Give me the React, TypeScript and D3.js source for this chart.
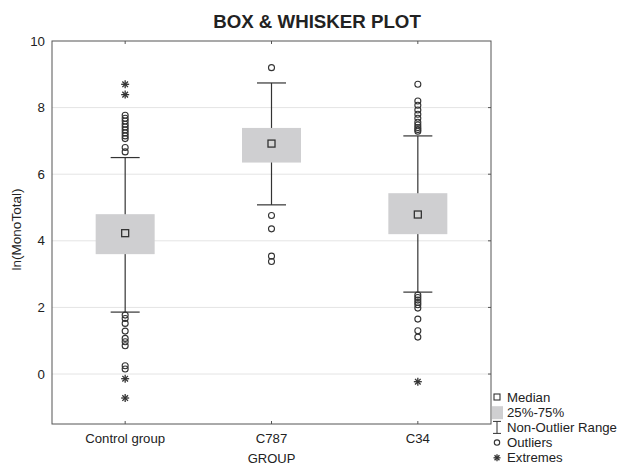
import React, { useEffect, useRef } from 'react';
import * as d3 from 'd3';

const categories = ['Control group', 'C787', 'C34'];
const medians = [4.23, 6.92, 4.79];
const q1 = [3.6, 6.35, 4.2];
const q3 = [4.8, 7.39, 5.43];
const whiskerLow = [1.86, 5.08, 2.46];
const whiskerHigh = [6.5, 8.74, 7.15];
const outliers = [
  [7.77, 7.68, 7.6, 7.5, 7.42, 7.33, 7.24, 7.15, 7.07, 6.8, 6.67, 1.77, 1.67, 1.52, 1.29, 1.07, 0.97, 0.85, 0.25, 0.15],
  [9.2, 4.76, 4.36, 3.54, 3.38],
  [8.7, 8.2, 8.07, 7.93, 7.8, 7.68, 7.56, 7.48, 7.4, 7.34, 7.29, 2.37, 2.3, 2.22, 2.15, 2.08, 1.98, 1.65, 1.3, 1.11],
];
const extremes = [
  [8.7, 8.39, -0.14, -0.72],
  [],
  [-0.23],
];
const yTicks = [0, 2, 4, 6, 8, 10];
const legendItems = ['Median', '25%-75%', 'Non-Outlier Range', 'Outliers', 'Extremes'];

const App = () => {
  const chartRef = useRef<HTMLDivElement>(null);

  useEffect(() => {
    const width = 619;
    const height = 465;
    const plot = { left: 52, right: 491, top: 41, bottom: 424 };
    const dark = '#333';
    const font = 'Liberation Sans, Arial, sans-serif';

    const svg = d3.select(chartRef.current)
      .append('svg')
      .attr('width', width)
      .attr('height', height)
      .style('position', 'absolute')
      .style('left', 0)
      .style('top', 0)
      .style('background', '#fff')
      .style('font-family', font);

    const x = d3.scaleBand()
      .domain(categories)
      .range([plot.left, plot.right]);

    const y = d3.scaleLinear()
      .domain([-1.5, 10])
      .range([plot.bottom, plot.top]);

    const cx = (i: number) => (x(categories[i]) as number) + x.bandwidth() / 2;

    // gridlines
    svg.append('g')
      .selectAll('line')
      .data(yTicks.filter(d => d < 10))
      .join('line')
      .attr('x1', plot.left)
      .attr('x2', plot.right)
      .attr('y1', d => y(d))
      .attr('y2', d => y(d))
      .attr('stroke', '#e4e4e4')
      .attr('stroke-width', 1);

    // y tick labels
    svg.append('g')
      .selectAll('text')
      .data(yTicks)
      .join('text')
      .attr('x', 45)
      .attr('y', d => y(d) + 4.5)
      .attr('text-anchor', 'end')
      .attr('font-size', 13.3)
      .attr('fill', '#222')
      .text(d => d);

    // right ticks
    svg.append('g')
      .selectAll('line')
      .data(yTicks.filter(d => d < 10))
      .join('line')
      .attr('x1', plot.right - 3)
      .attr('x2', plot.right)
      .attr('y1', d => y(d))
      .attr('y2', d => y(d))
      .attr('stroke', '#555');

    // category ticks top & bottom
    const catTicks = svg.append('g');
    categories.forEach((c, i) => {
      catTicks.append('line')
        .attr('x1', cx(i)).attr('x2', cx(i))
        .attr('y1', plot.top).attr('y2', plot.top + 3)
        .attr('stroke', '#555');
      catTicks.append('line')
        .attr('x1', cx(i)).attr('x2', cx(i))
        .attr('y1', plot.bottom).attr('y2', plot.bottom - 3)
        .attr('stroke', '#555');
      catTicks.append('text')
        .attr('x', cx(i))
        .attr('y', 443)
        .attr('text-anchor', 'middle')
        .attr('font-size', 13.2)
        .attr('fill', '#222')
        .text(c);
    });

    // boxes
    const boxW = 59;
    const capW = 29;
    const g = svg.append('g');
    const drawStar = (sel: any, xc: number, yc: number, s: number) => {
      const e = sel.append('g').attr('transform', `translate(${xc},${yc})`);
      [0, 45, 90, 135].forEach(a => {
        e.append('line')
          .attr('x1', -s).attr('x2', s)
          .attr('y1', 0).attr('y2', 0)
          .attr('transform', `rotate(${a})`)
          .attr('stroke', dark)
          .attr('stroke-width', 1.3);
      });
    };
    categories.forEach((c, i) => {
      const xc = cx(i);
      // whisker line
      g.append('line')
        .attr('x1', xc).attr('x2', xc)
        .attr('y1', y(whiskerLow[i])).attr('y2', y(whiskerHigh[i]))
        .attr('stroke', dark).attr('stroke-width', 1.2);
      [whiskerLow[i], whiskerHigh[i]].forEach(v => {
        g.append('line')
          .attr('x1', xc - capW / 2).attr('x2', xc + capW / 2)
          .attr('y1', y(v)).attr('y2', y(v))
          .attr('stroke', dark).attr('stroke-width', 1.2);
      });
      g.append('rect')
        .attr('x', xc - boxW / 2)
        .attr('y', y(q3[i]))
        .attr('width', boxW)
        .attr('height', y(q1[i]) - y(q3[i]))
        .attr('fill', '#cfcfd1');
      g.append('rect')
        .attr('x', xc - 3.5)
        .attr('y', y(medians[i]) - 3.5)
        .attr('width', 7)
        .attr('height', 7)
        .attr('fill', '#d6d6d6')
        .attr('stroke', dark)
        .attr('stroke-width', 1.3);

      outliers[i].forEach(v => {
        g.append('circle')
          .attr('cx', xc)
          .attr('cy', y(v))
          .attr('r', 3)
          .attr('fill', 'none')
          .attr('stroke', dark)
          .attr('stroke-width', 1.1);
      });

      extremes[i].forEach(v => drawStar(g, xc, y(v), 4));
    });

    // frame
    svg.append('rect')
      .attr('x', plot.left)
      .attr('y', plot.top)
      .attr('width', plot.right - plot.left)
      .attr('height', plot.bottom - plot.top)
      .attr('fill', 'none')
      .attr('stroke', '#555')
      .attr('stroke-width', 1);

    // title & axis labels
    svg.append('text')
      .attr('x', 317)
      .attr('y', 28)
      .attr('text-anchor', 'middle')
      .attr('font-size', 18.7)
      .attr('font-weight', 'bold')
      .attr('fill', '#222')
      .text('BOX & WHISKER PLOT');

    svg.append('text')
      .attr('transform', `translate(21, ${(plot.top + plot.bottom) / 2 - 3}) rotate(-90)`)
      .attr('text-anchor', 'middle')
      .attr('font-size', 13.5)
      .attr('fill', '#222')
      .text('ln(MonoTotal)');

    svg.append('text')
      .attr('x', (plot.left + plot.right) / 2)
      .attr('y', 463)
      .attr('text-anchor', 'middle')
      .attr('font-size', 13)
      .attr('fill', '#222')
      .text('GROUP');

    // legend
    const leg = svg.append('g');
    const ly0 = 397;
    const lstep = 15.2;
    legendItems.forEach((t, i) => {
      const ly = ly0 + i * lstep;
      const sx = 497;
      if (i === 0) {
        leg.append('rect').attr('x', sx - 3).attr('y', ly - 3).attr('width', 6).attr('height', 6)
          .attr('fill', 'none').attr('stroke', dark).attr('stroke-width', 1.1);
      } else if (i === 1) {
        leg.append('rect').attr('x', sx - 5).attr('y', ly - 6).attr('width', 11).attr('height', 13)
          .attr('fill', '#cfcfd1');
      } else if (i === 2) {
        leg.append('line').attr('x1', sx).attr('x2', sx).attr('y1', ly - 6).attr('y2', ly + 6)
          .attr('stroke', dark);
        leg.append('line').attr('x1', sx - 4).attr('x2', sx + 4).attr('y1', ly - 6).attr('y2', ly - 6)
          .attr('stroke', dark);
        leg.append('line').attr('x1', sx - 4).attr('x2', sx + 4).attr('y1', ly + 6).attr('y2', ly + 6)
          .attr('stroke', dark);
      } else if (i === 3) {
        leg.append('circle').attr('cx', sx).attr('cy', ly).attr('r', 2.7)
          .attr('fill', 'none').attr('stroke', dark).attr('stroke-width', 1.1);
      } else {
        drawStar(leg, sx, ly, 3.5);
      }
      leg.append('text')
        .attr('x', 507)
        .attr('y', ly + 4.5)
        .attr('font-size', 13.2)
        .attr('fill', '#222')
        .text(t);
    });

    return () => {
      d3.select(chartRef.current).selectAll('svg').remove();
    };
  }, []);

  return <div ref={chartRef} />;
};

export default App;
